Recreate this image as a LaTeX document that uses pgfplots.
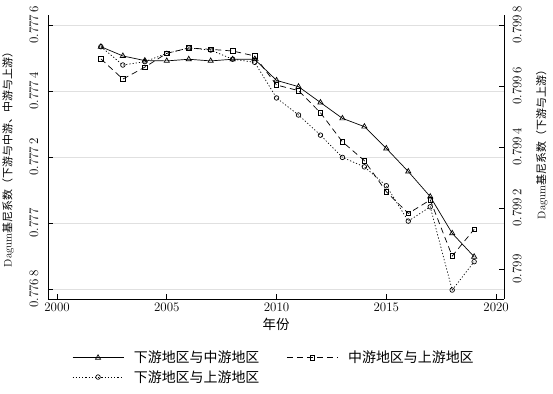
\documentclass[border=0pt]{standalone}
\usepackage{pgfplots}
\pgfplotsset{compat=1.18}
\usepackage{fontspec}
\newfontfamily\cjk{Noto Sans CJK SC}

\begin{document}
\begin{tikzpicture}
\path[use as bounding box] (-48bp,-95bp) rectangle (505bp,299bp);
\pgfplotsset{
  common/.style={
    scale only axis, width=456bp, height=284bp,
    xmin=1999.59, xmax=2020.36,
    at={(0,0)}, anchor=south west,
    tick align=inside, major tick length=5bp,
    tick style={black, line width=0.6pt},
    axis line style={black, line width=0.6pt, -},
    tick label style={font=\fontsize{13}{15}\selectfont},
    every axis plot/.append style={black, line width=0.7pt},
    legend image code/.code={\draw[mark repeat=2, mark phase=2, #1] plot coordinates {(0bp,0bp) (25.5bp,0bp) (51bp,0bp)};},
  },
}
\begin{axis}[common,
  axis x line*=bottom, axis y line*=left,
  xtick={2000,2005,2010,2015,2020},
  xticklabels={2000,2005,2010,2015,2020},
  xlabel={\cjk 年份},
  xlabel style={font=\fontsize{13.5}{15}\selectfont},
  ymin=0.77677, ymax=0.77763,
  ytick={0.7768,0.777,0.7772,0.7774,0.7776},
  yticklabels={0.776\,8,0.777,0.777\,2,0.777\,4,0.777\,6},
  yticklabel style={rotate=90, anchor=south},
  yticklabel shift=6bp,
  ymajorgrids, grid style={black!12, line width=0.8pt},
  ylabel={Dagum{\cjk 基尼系数（下游与中游、中游与上游）}},
  every axis y label/.style={at={([xshift=-30.5bp]rel axis cs:0,0.5)}, rotate=90, anchor=south, font=\fontsize{11}{13}\selectfont},
  legend columns=2,
  legend style={at={([xshift=24bp, yshift=-52bp]rel axis cs:0,0)}, anchor=north west, draw=none, fill=none,
    font=\fontsize{14}{16}\selectfont\cjk, inner sep=0pt, row sep=6bp,
    nodes={inner sep=0pt, anchor=west},
    /tikz/every odd column/.append style={column sep=10bp},
    /tikz/every even column/.append style={column sep=27bp}},
  legend cell align=left,
]
\addplot[solid, mark=triangle, mark size=3pt] coordinates {
(2002,0.777534) (2003,0.777506) (2004,0.777492) (2005,0.777491) (2006,0.777496)
(2007,0.777491) (2008,0.777496) (2009,0.777496) (2010,0.777432) (2011,0.777413)
(2012,0.777365) (2013,0.777317) (2014,0.777292) (2015,0.777226) (2016,0.777156)
(2017,0.777080) (2018,0.776969) (2019,0.776898)};
\addlegendentry{下游地区与中游地区}
\addplot[dash pattern=on 6bp off 4bp, mark=square, mark size=2.3pt, mark options={solid}] coordinates {
(2002,0.777497) (2003,0.777436) (2004,0.777472) (2005,0.777514) (2006,0.777530)
(2007,0.777526) (2008,0.777521) (2009,0.777506) (2010,0.777418) (2011,0.777401)
(2012,0.777334) (2013,0.777246) (2014,0.777189) (2015,0.777095) (2016,0.777029)
(2017,0.777070) (2018,0.776900) (2019,0.776981)};
\addlegendentry{中游地区与上游地区}
\addlegendimage{black, line width=0.7pt, dash pattern=on 1.2bp off 2bp, mark=o, mark size=2.3pt, mark options={solid}}
\addlegendentry{下游地区与上游地区}
\end{axis}
\begin{axis}[common,
  axis x line=none, axis y line*=right,
  ymin=0.7989016, ymax=0.799833,
  ytick={0.799,0.7992,0.7994,0.7996,0.7998},
  yticklabels={0.799,0.799\,2,0.799\,4,0.799\,6,0.799\,8},
  yticklabel style={rotate=90, anchor=north},
  yticklabel shift=5bp,
  ylabel={Dagum{\cjk 基尼系数（下游与上游）}},
  every axis y label/.style={at={([xshift=28.5bp, yshift=15bp]rel axis cs:1,0.5)}, rotate=90, anchor=north, font=\fontsize{11}{13}\selectfont},
]
\addplot[dash pattern=on 1.2bp off 2bp, mark=o, mark size=2.3pt, mark options={solid}] coordinates {
(2002,0.799729) (2003,0.799669) (2004,0.799680) (2005,0.799707) (2006,0.799725)
(2007,0.799718) (2008,0.799688) (2009,0.799678) (2010,0.799561) (2011,0.799505)
(2012,0.799439) (2013,0.799366) (2014,0.799335) (2015,0.799273) (2016,0.799157)
(2017,0.799204) (2018,0.798931) (2019,0.799024)};
\end{axis}
\end{tikzpicture}
\end{document}
